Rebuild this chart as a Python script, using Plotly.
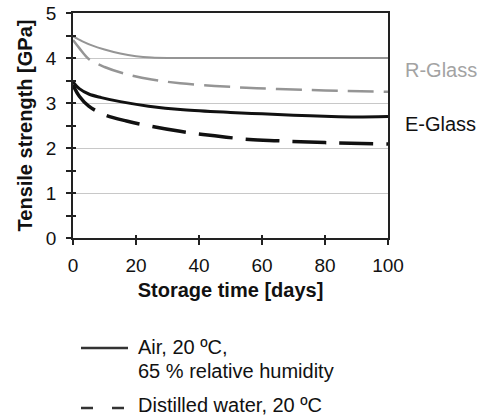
import plotly.graph_objects as go

# ---- data ----
days_r_air = [0, 3, 6, 10, 15, 20, 25, 30, 40, 50, 60, 70, 80, 90, 100]
r_glass_air = [4.48, 4.37, 4.28, 4.19, 4.10, 4.04, 4.01, 4.0, 4.0, 4.0, 4.0, 4.0, 4.0, 4.0, 4.0]

days_r_water = [0, 2, 5, 10, 17, 25, 34, 45, 55, 65, 80, 100]
r_glass_water = [4.40, 4.22, 3.98, 3.80, 3.64, 3.52, 3.44, 3.38, 3.34, 3.31, 3.28, 3.25]

days_e_air = [0, 2, 5, 9, 15, 24, 35, 50, 60, 70, 82, 90, 100]
e_glass_air = [3.47, 3.32, 3.20, 3.12, 3.03, 2.93, 2.85, 2.79, 2.76, 2.73, 2.70, 2.69, 2.70]

days_e_water = [0, 2, 5, 10, 17, 25, 34, 45, 56, 65, 80, 100]
e_glass_water = [3.40, 3.15, 2.93, 2.74, 2.60, 2.48, 2.37, 2.27, 2.19, 2.16, 2.12, 2.09]

x_ticks = [0, 20, 40, 60, 80, 100]
y_ticks = [0, 1, 2, 3, 4, 5]
series_labels = ["R-Glass", "E-Glass"]
label_y = [3.73, 2.54]
legend_lines = ["Air, 20 ºC,", "65 % relative humidity", "Distilled water, 20 ºC"]
x_title = "Storage time [days]"
y_title = "Tensile strength [GPa]"

FONT = "Liberation Sans, Arial, Helvetica, sans-serif"
GRAY = "#959595"
BLACK = "#111111"

fig = go.Figure()
fig.add_trace(go.Scatter(x=days_r_air, y=r_glass_air, mode="lines", line=dict(color=GRAY, width=2, shape="spline"), showlegend=False))
fig.add_trace(go.Scatter(x=days_r_water, y=r_glass_water, mode="lines", line=dict(color=GRAY, width=2.5, dash="26px,10px", shape="spline"), showlegend=False))
fig.add_trace(go.Scatter(x=days_e_air, y=e_glass_air, mode="lines", line=dict(color=BLACK, width=3, shape="spline"), showlegend=False))
fig.add_trace(go.Scatter(x=days_e_water, y=e_glass_water, mode="lines", line=dict(color=BLACK, width=3.5, dash="34px,13px", shape="spline"), showlegend=False))
# invisible trace for the overlay axes (inner half of crossing ticks)
fig.add_trace(go.Scatter(x=[None], y=[None], xaxis="x2", yaxis="y2", showlegend=False, hoverinfo="skip"))

fig.update_layout(
    width=484, height=419,
    margin=dict(l=73, r=96, t=13, b=181, autoexpand=False),
    paper_bgcolor="white", plot_bgcolor="white",
    font=dict(family=FONT, size=19, color="#111"),
    xaxis=dict(range=[0, 100], tickvals=x_ticks, ticks="outside", ticklen=5, tickwidth=1.5, tickcolor="#222",
               showline=True, linecolor="#222", linewidth=1.5, mirror=True, showgrid=False, zeroline=False,
               ticklabelstandoff=4, automargin=False,
               title=dict(text=f"<b>{x_title}</b>", font=dict(size=20), standoff=8)),
    yaxis=dict(range=[0, 5], tickvals=y_ticks, ticks="outside", ticklen=5, tickwidth=1.5, tickcolor="#222",
               showline=True, linecolor="#222", linewidth=1.5, mirror=True, zeroline=False,
               showgrid=True, gridcolor="#c8c8c8", gridwidth=1, automargin=False,
               minor=dict(dtick=0.5, tick0=0, ticks="outside", ticklen=5, tickwidth=1.5, tickcolor="#222", showgrid=False),
               ticklabelstandoff=6,
               title=dict(text=f"<b>{y_title}</b>", font=dict(size=20), standoff=8)),
    xaxis2=dict(overlaying="x", anchor="y", side="bottom", range=[0, 100], tickvals=x_ticks, ticks="inside", ticklen=3,
                tickwidth=1.5, tickcolor="#222", showticklabels=False, showgrid=False, zeroline=False, showline=False,
                automargin=False),
    yaxis2=dict(overlaying="y", anchor="x", side="left", range=[0, 5], dtick=0.5, tick0=0, ticks="inside", ticklen=3,
                tickwidth=1.5, tickcolor="#222", showticklabels=False, showgrid=False, zeroline=False, showline=False,
                automargin=False),
)

# series labels at right of plot
for txt, yv, col in zip(series_labels, label_y, ["#a3a3a3", BLACK]):
    fig.add_annotation(x=1.047, xref="paper", y=yv, yref="y", text=txt, showarrow=False,
                       xanchor="left", yanchor="middle", font=dict(size=20, color=col, family=FONT))

# legend (manual, below the chart)
def py(p):  # pixel row -> paper y
    return (238 - p) / 225

def px(p):  # pixel col -> paper x
    return (p - 73) / 315

fig.add_shape(type="line", xref="paper", yref="paper", x0=px(81), x1=px(128), y0=py(348), y1=py(348),
              line=dict(color="#333", width=2.5))
fig.add_shape(type="line", xref="paper", yref="paper", x0=px(81), x1=px(128), y0=py(408), y1=py(408),
              line=dict(color="#333", width=2.5, dash="12px,19px"))
for txt, yy in zip(legend_lines, [347, 371, 405]):
    fig.add_annotation(x=px(136), xref="paper", y=py(yy), yref="paper", text=txt, showarrow=False,
                       xanchor="left", yanchor="middle", font=dict(size=20, color="#111", family=FONT))

fig.write_html("out.html", config={"displayModeBar": False},
               post_script="document.body.style.margin='0';document.body.style.overflow='hidden';")
